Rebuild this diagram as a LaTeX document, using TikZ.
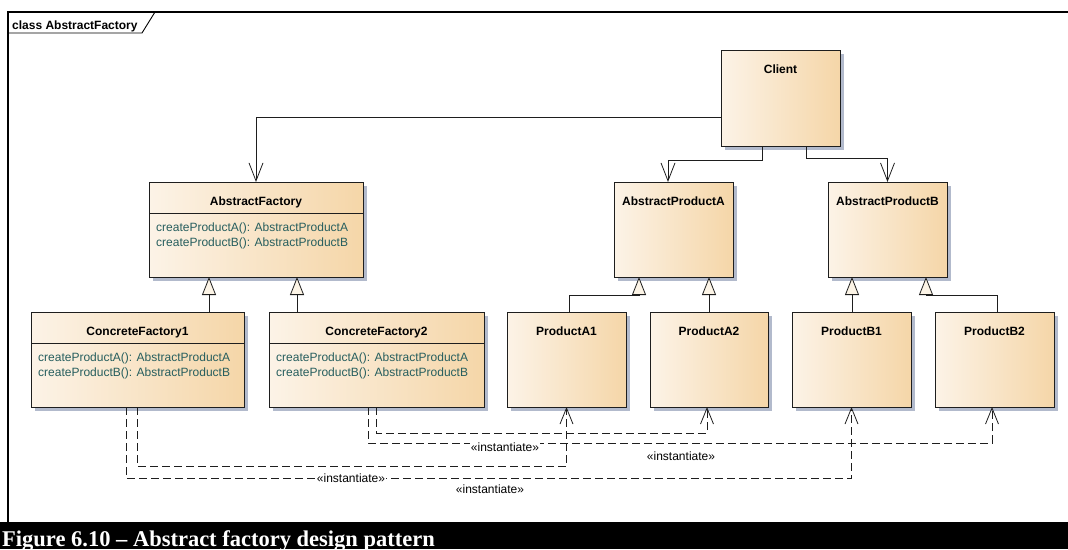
\documentclass[tikz,border=0pt]{standalone}
\usepackage{fontspec}
\setmainfont{Liberation Sans}
\newfontfamily\capfont{Liberation Serif}
\usetikzlibrary{arrows.meta,shadows,calc}

\definecolor{boxleft}{RGB}{252,243,231}
\definecolor{boxright}{RGB}{245,214,168}
\definecolor{shadowc}{RGB}{178,186,204}
\definecolor{optext}{RGB}{38,94,94}
\definecolor{linec}{RGB}{30,30,30}
\definecolor{genfill}{RGB}{252,244,230}

\begin{document}
\begin{tikzpicture}[x=1pt,y=-1pt,
  cls/.style={draw=linec, line width=0.9pt, left color=boxleft, right color=boxright,
    general shadow={fill=shadowc, shadow xshift=3.5pt, shadow yshift=-3.5pt},
    anchor=north west, inner sep=0pt, outer sep=0pt},
  clsname/.style={anchor=base, inner sep=0pt, font=\bfseries\fontsize{12}{14}\selectfont},
  optxt/.style={anchor=base west, inner sep=0pt, text=optext, font=\fontsize{12}{14}\selectfont},
  conn/.style={draw=linec, line width=0.8pt},
  assoc/.style={conn, -{Straight Barb[length=18pt, width=14pt, line width=0.8pt]}},
  gen/.style={conn, -{Triangle[length=18pt, width=14pt, fill=genfill, line width=0.8pt]}},
  dep/.style={conn, dash pattern=on 8pt off 4pt, -{Straight Barb[length=16pt, width=13pt, line width=0.8pt]}},
  stereo/.style={anchor=base, fill=white, inner sep=0.5pt, font=\fontsize{12}{14}\selectfont}
]
\useasboundingbox (0,0) rectangle (1068,549);
\clip (0,0) rectangle (1068,549);

% diagram frame with its name tab
\draw[line width=2pt] (1070,12) -- (8,12) -- (8,523);
\draw[line width=0.9pt] (8,33) -- (142,33) -- (155,12);
\node[anchor=base west, inner sep=0pt, font=\bfseries\fontsize{12}{14}\selectfont] (frametitle) at (12,29.5) {class AbstractFactory};

% class boxes: name, left, top, width, height
\newcommand{\umlclass}[6]{%
  \node[cls, minimum width=#4pt, minimum height=#5pt] (#1) at (#2,#3) {};
  \node[clsname] (#1-name) at ([yshift=-23.5pt]#1.north) {#6};
}

\umlclass{client}{721}{50}{119}{96}{Client}
\umlclass{af}{149}{182}{214}{95}{AbstractFactory}
\umlclass{apa}{614}{182}{119}{95}{AbstractProductA}
\umlclass{apb}{828}{182}{119}{95}{AbstractProductB}
\umlclass{cf1}{31}{312}{213}{95}{ConcreteFactory1}
\umlclass{cf2}{269}{312}{215}{95}{ConcreteFactory2}
\umlclass{pa1}{507}{312}{119}{95}{ProductA1}
\umlclass{pa2}{650}{312}{118}{95}{ProductA2}
\umlclass{pb1}{792}{312}{119}{95}{ProductB1}
\umlclass{pb2}{935}{312}{119}{95}{ProductB2}

% operation compartments
\foreach \c in {af,cf1,cf2}{
  \draw[conn, line width=0.9pt] ([yshift=-31pt]\c.north west) -- ([yshift=-31pt]\c.north east);
  \node[optxt] (\c-opa) at ([xshift=7pt,yshift=-49.5pt]\c.north west) {createProductA(): AbstractProductA};
  \node[optxt] (\c-opb) at ([xshift=7pt,yshift=-64.5pt]\c.north west) {createProductB(): AbstractProductB};
}

% associations from the client
\coordinate (c1) at ([yshift=-19pt]client.west);
\draw[assoc] (c1) -| (af.north);
\coordinate (c2) at ([xshift=41pt]client.south west);
\coordinate (t2) at ([xshift=-5.5pt]apa.north);
\draw[assoc] (c2) -- ++(0,14) -| (t2);
\coordinate (c3) at ([xshift=85pt]client.south west);
\draw[assoc] (c3) -- ++(0,12) -| (apb.north);

% generalizations
\coordinate (g1) at ([xshift=178pt]cf1.north west);
\draw[gen] (g1) -- (g1 |- af.south);
\coordinate (g2) at ([xshift=28pt]cf2.north west);
\draw[gen] (g2) -- (g2 |- af.south);

\coordinate (g3) at ([xshift=62pt]pa1.north west);
\coordinate (b3) at ([xshift=25pt,yshift=-18pt]apa.south west);
\draw[conn] (g3) |- (b3);
\draw[gen] (b3) -- (b3 |- apa.south);
\coordinate (g4) at ([xshift=59pt]pa2.north west);
\draw[gen] (g4) -- (g4 |- apa.south);

\coordinate (g5) at ([xshift=60pt]pb1.north west);
\draw[gen] (g5) -- (g5 |- apb.south);
\coordinate (g6) at ([xshift=62pt]pb2.north west);
\coordinate (b6) at ([xshift=98pt,yshift=-18pt]apb.south west);
\draw[conn] (g6) |- (b6);
\draw[gen] (b6) -- (b6 |- apb.south);

% instantiate dependencies
\draw[dep] ([xshift=107pt]cf2.south west) -- ++(0,26) -| ([xshift=-2pt]pa2.south);
\draw[dep] ([xshift=99pt]cf2.south west) -- ++(0,36) -| ([xshift=-2.5pt]pb2.south);
\draw[dep] ([xshift=106pt]cf1.south west) -- ++(0,59) -| (pa1.south);
\draw[dep] ([xshift=95pt]cf1.south west) -- ++(0,71) -| (pb1.south);

\node[stereo] (s1) at (505,451) {«instantiate»};
\node[stereo] (s2) at (681,460) {«instantiate»};
\node[stereo] (s3) at (351,482) {«instantiate»};
\node[stereo] (s4) at (490,493) {«instantiate»};

% caption bar
\fill[black] (0,522) rectangle (1068,549);
\node[anchor=base west, inner sep=0pt, text=white, font=\capfont\bfseries\fontsize{22.5}{24}\selectfont] (caption) at (2,546) {Figure 6.10 – Abstract factory design pattern};
\end{tikzpicture}
\end{document}
